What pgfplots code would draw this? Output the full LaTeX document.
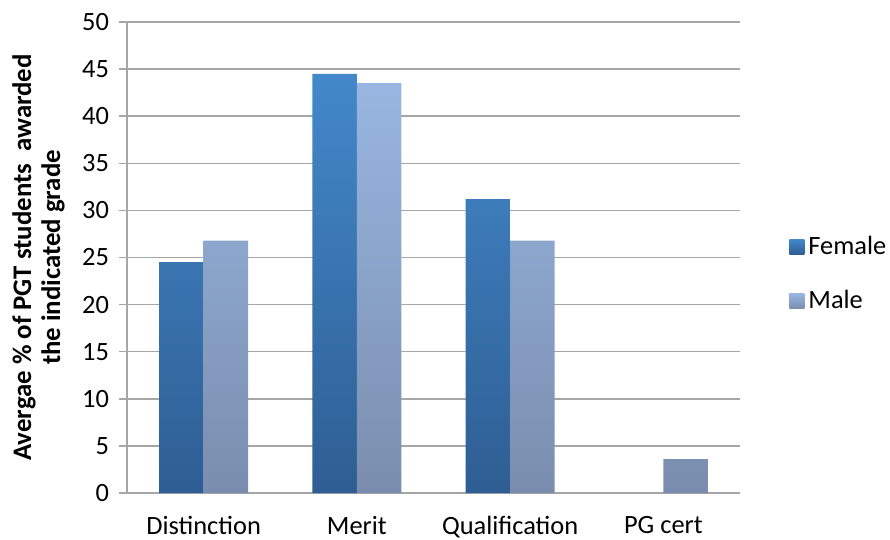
\documentclass[border=0pt]{standalone}
\usepackage{fontspec}
\setmainfont{Carlito}
\usepackage{pgfplots}
\pgfplotsset{compat=1.18}
\definecolor{fTop}{HTML}{4388CA}
\definecolor{fBot}{HTML}{2E5E93}
\definecolor{mTop}{HTML}{98B6E1}
\definecolor{mBot}{HTML}{7A8DAE}
\definecolor{gridc}{HTML}{A6A6A6}
\begin{document}
\begin{tikzpicture}
\begin{axis}[
  name=ax,
  scale only axis, width=306.5pt, height=235.5pt,
  ymin=0, ymax=50, ytick={0,5,...,50},
  xmin=-0.5, xmax=3.5,
  xtick={0,1,2,3},
  xticklabels={Distinction,Merit,Qualification,PG cert},
  x tick style={draw=none},
  extra x ticks={-0.5,0.5,1.5,2.5,3.5},
  extra x tick labels={},
  extra x tick style={grid=none, tick style={draw=gridc, line width=0.7pt}, major tick length=3.5pt},
  y tick style={draw=gridc, line width=0.7pt},
  tick align=outside, major tick length=4pt,
  axis lines*=left,
  axis line style={draw=gridc, line width=0.7pt, -},
  ymajorgrids, grid style={draw=gridc, line width=0.7pt},
  tick label style={font=\fontsize{13.2}{15}\selectfont, black},
  /pgf/number format/assume math mode=true,
  xticklabel style={yshift=-4pt},
  yticklabel style={xshift=-1.5pt},
  ylabel={Avergae \% of PGT students\ \ awarded\\the indicated grade},
  ylabel style={font=\fontsize{13.4}{14.5}\selectfont\bfseries, align=center,
    at={(axis description cs:-0.090,0.5)}, anchor=south},
  legend style={at={(rel axis cs:1.08,0.465)}, anchor=west, draw=none, fill=none,
    font=\fontsize{13.2}{15}\selectfont, row sep=12.5pt, inner sep=0pt},
  legend cell align=left,
  legend image code/.code={\path[#1] (0pt,-3.75pt) rectangle (7.5pt,3.75pt);},
]
\addplot[ybar, bar width=0.29, bar shift=-0.145, draw=none, top color=fTop, bottom color=fBot]
  coordinates {(0,24.5) (1,44.5) (2,31.2)};
\addlegendentry{Female}
\addplot[ybar, bar width=0.29, bar shift=0.145, draw=none, top color=mTop, bottom color=mBot]
  coordinates {(0,26.8) (1,43.5) (2,26.8) (3,3.6)};
\addlegendentry{Male}
\end{axis}
\pgfresetboundingbox
\path ([xshift=-63.5pt,yshift=-23pt]ax.south west) rectangle ([xshift=75pt,yshift=11pt]ax.north east);
\end{tikzpicture}
\end{document}
